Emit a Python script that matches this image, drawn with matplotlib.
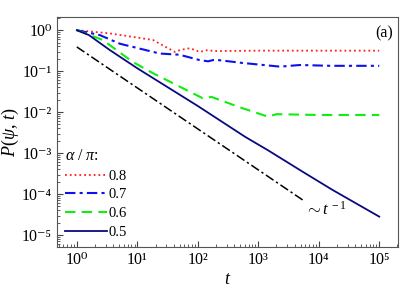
import numpy as np
import matplotlib
matplotlib.use('Agg')
import matplotlib.pyplot as plt
from matplotlib.ticker import LogLocator, NullFormatter, FuncFormatter

plt.rcParams['font.family'] = ['Liberation Serif', 'DejaVu Serif']
plt.rcParams['mathtext.fontset'] = 'custom'
plt.rcParams['mathtext.rm'] = 'Liberation Serif'
plt.rcParams['mathtext.it'] = 'Liberation Serif:italic'

# log10(t), log10(P)
lt08 = [0, 0.55, 1.26, 1.42, 1.62, 1.72, 1.87, 2.03, 2.15, 2.3, 3.0, 4.0, 5.0]
lp08 = [0, -0.08, -0.24, -0.37, -0.53, -0.48, -0.44, -0.53, -0.49, -0.51, -0.50, -0.50, -0.50]

lt07 = [0, 0.38, 0.71, 1.04, 1.37, 1.70, 2.03, 2.17, 2.28, 2.74, 3.36, 3.69, 4.2, 5.0]
lp07 = [0, -0.12, -0.33, -0.45, -0.57, -0.60, -0.73, -0.76, -0.72, -0.80, -0.89, -0.85, -0.87, -0.87]

lt06 = [0, 0.43, 0.66, 0.93, 1.26, 1.65, 2.08, 2.23, 2.69, 3.16, 3.3, 4.0, 5.0]
lp06 = [0, -0.24, -0.49, -0.78, -1.05, -1.34, -1.66, -1.63, -1.88, -2.11, -2.05, -2.07, -2.07]

lt05 = [0, 0.2, 0.55, 1.0, 2.0, 2.78, 3.16, 3.74, 4.23, 5.0]
lp05 = [0, -0.12, -0.49, -0.93, -1.85, -2.6, -2.93, -3.46, -3.9, -4.55]

ref_t = [1, 5600]
ref_p = [0.39, 0.39 / 5600]

fig = plt.figure(figsize=(4.15, 2.94), dpi=100)
ax = fig.add_axes([0.137, 0.160, 0.822, 0.782])

ax.plot(10 ** np.array(lt08), 10 ** np.array(lp08), color='#ff2020', ls=':', lw=1.3, label='0.8')
ax.plot(10 ** np.array(lt07), 10 ** np.array(lp07), color='#1010ee', ls=(0, (5, 2, 1.5, 2)), lw=1.5, label='0.7')
ax.plot(10 ** np.array(lt06), 10 ** np.array(lp06), color='#10ee10', ls=(0, (5, 3)), lw=1.5, label='0.6')
ax.plot(10 ** np.array(lt05), 10 ** np.array(lp05), color='#0a0a80', ls='-', lw=1.3, label='0.5')
ax.plot(ref_t, ref_p, color='black', ls=(0, (6, 2, 1.5, 2)), lw=1.1)

ax.set_xscale('log')
ax.set_yscale('log')
ax.set_xlim(10 ** -0.33, 10 ** 5.31)
ax.set_ylim(10 ** -5.29, 10 ** 0.32)

sup = str.maketrans('-0123456789', '⁻⁰¹²³⁴⁵⁶⁷⁸⁹')


def powfmt(v, pos):
    return '10' + str(int(round(np.log10(v)))).translate(sup)


ax.xaxis.set_major_locator(LogLocator(base=10, numticks=10))
ax.yaxis.set_major_locator(LogLocator(base=10, numticks=10))
ax.xaxis.set_major_formatter(FuncFormatter(powfmt))
ax.yaxis.set_major_formatter(FuncFormatter(powfmt))
ax.xaxis.set_minor_locator(LogLocator(base=10, subs=np.arange(2, 10), numticks=20))
ax.yaxis.set_minor_locator(LogLocator(base=10, subs=np.arange(2, 10), numticks=20))
ax.xaxis.set_minor_formatter(NullFormatter())
ax.yaxis.set_minor_formatter(NullFormatter())
ax.tick_params(which='both', direction='in', top=False, right=False, labelsize=11.5, color='#444444')
ax.tick_params(which='major', length=4)
ax.tick_params(which='minor', length=2)
for s in ax.spines.values():
    s.set_color('#555555')

ax.set_xlabel('$t$', fontsize=13, labelpad=2)
ax.set_ylabel(r'$P(\psi,\, t)$', fontsize=13)
ax.yaxis.set_label_coords(-0.105, 0.5)

ax.text(0.985, 0.93, '(a)', transform=ax.transAxes, ha='right', va='center', fontsize=11.5)
ax.text(5900, 10 ** -4.39, r'$\sim t^{\,-1}$', ha='left', va='center', fontsize=12)

leg = ax.legend(loc='lower left', title=r'$\alpha\ /\ \pi$:', frameon=False, fontsize=10.5,
                handlelength=2.9, handletextpad=0.1, labelspacing=0.38, borderaxespad=0.15,
                bbox_to_anchor=(0.0, 0.0))
leg.get_title().set_fontsize(11.5)
leg._legend_box.align = 'left'

fig.savefig('out.png', dpi=100)
